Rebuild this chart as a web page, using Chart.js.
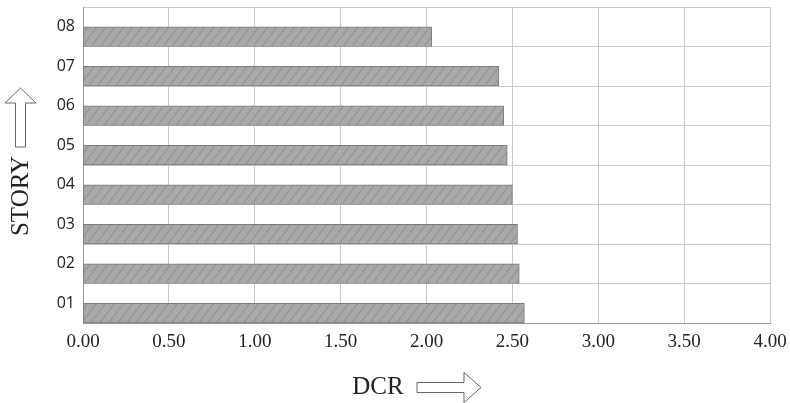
<!DOCTYPE html>
<html>
<head>
<meta charset="utf-8">
<script src="https://cdn.jsdelivr.net/npm/chart.js@4"></script>
<style>
  body { margin: 0; background: #fff; }
  #wrap { width: 790px; height: 403px; }
</style>
</head>
<body>
<div id="wrap"><canvas id="barChart"></canvas></div>
<script>
const stories = ['08', '07', '06', '05', '04', '03', '02', '01'];
const dcrValues = [2.03, 2.42, 2.45, 2.47, 2.50, 2.53, 2.54, 2.57];
const emptyRow = [null, null, null, null, null, null, null, null];
const xTicks = [0, 0.5, 1, 1.5, 2, 2.5, 3, 3.5, 4];

// hatch pattern for the bars
function makeHatch() {
  const c = document.createElement('canvas');
  c.width = 9; c.height = 12;
  const g = c.getContext('2d');
  g.fillStyle = '#a9a9a9';
  g.fillRect(0, 0, 9, 12);
  g.strokeStyle = '#929292';
  g.lineWidth = 1.2;
  g.beginPath();
  g.moveTo(0, 12); g.lineTo(9, 0);
  g.moveTo(-9, 12); g.lineTo(0, 0);
  g.moveTo(9, 12); g.lineTo(18, 0);
  g.stroke();
  return g.createPattern(c, 'repeat');
}

// axis titles with hollow arrows
const titlesPlugin = {
  id: 'titles',
  afterDraw(chart) {
    const ctx = chart.ctx;
    ctx.save();
    ctx.fillStyle = '#222';
    ctx.font = '25px "Liberation Serif", serif';
    ctx.textAlign = 'center';
    ctx.textBaseline = 'middle';
    ctx.fillText('DCR', 378, 387);
    ctx.save();
    ctx.translate(21, 196);
    ctx.rotate(-Math.PI / 2);
    ctx.fillText('STORY', 0, 0);
    ctx.restore();

    ctx.strokeStyle = '#666';
    ctx.lineWidth = 1;
    ctx.fillStyle = '#fff';
    // right arrow
    ctx.beginPath();
    ctx.moveTo(417, 382.5); ctx.lineTo(464, 382.5); ctx.lineTo(464, 372.5);
    ctx.lineTo(481, 387.5); ctx.lineTo(464, 402.5); ctx.lineTo(464, 392.5);
    ctx.lineTo(417, 392.5); ctx.closePath();
    ctx.fill(); ctx.stroke();
    // up arrow
    ctx.beginPath();
    ctx.moveTo(15.5, 147); ctx.lineTo(15.5, 103); ctx.lineTo(5, 103);
    ctx.lineTo(20.5, 88); ctx.lineTo(36, 103); ctx.lineTo(25.5, 103);
    ctx.lineTo(25.5, 147); ctx.closePath();
    ctx.fill(); ctx.stroke();
    ctx.restore();
  }
};

const barChart = new Chart(document.getElementById('barChart'), {
  type: 'bar',
  data: {
    labels: stories,
    datasets: [
      { label: '', data: emptyRow },
      {
        label: 'DCR',
        data: dcrValues,
        backgroundColor: makeHatch(),
        borderColor: '#7c7c7c',
        borderWidth: 1,
        borderSkipped: false
      }
    ]
  },
  options: {
    indexAxis: 'y',
    responsive: true,
    maintainAspectRatio: false,
    animation: false,
    categoryPercentage: 1,
    barPercentage: 1,
    layout: { padding: { top: 7, right: 20, left: 0, bottom: 0 } },
    plugins: { legend: { display: false }, tooltip: { enabled: false } },
    scales: {
      x: {
        min: 0,
        max: 4,
        afterBuildTicks(scale) { scale.ticks = xTicks.map(v => ({ value: v })); },
        afterFit(scale) {
          scale.height = 80;
          scale.paddingLeft = 0;
          scale.paddingRight = 0;
        },
        grid: { color: '#c9c9c9', drawTicks: false },
        border: { color: '#999' },
        ticks: {
          padding: 8,
          color: '#222',
          font: { family: '"Liberation Serif", serif', size: 19 },
          callback: v => v.toFixed(2)
        }
      },
      y: {
        afterFit(scale) {
          scale.width = 83;
          scale.paddingTop = 0;
          scale.paddingBottom = 0;
        },
        grid: { color: '#c9c9c9', drawTicks: false },
        border: { color: '#999' },
        ticks: {
          padding: 8,
          color: '#222',
          font: { family: '"Open Sans", sans-serif', size: 16 }
        }
      }
    }
  },
  plugins: [titlesPlugin]
});
</script>
</body>
</html>
